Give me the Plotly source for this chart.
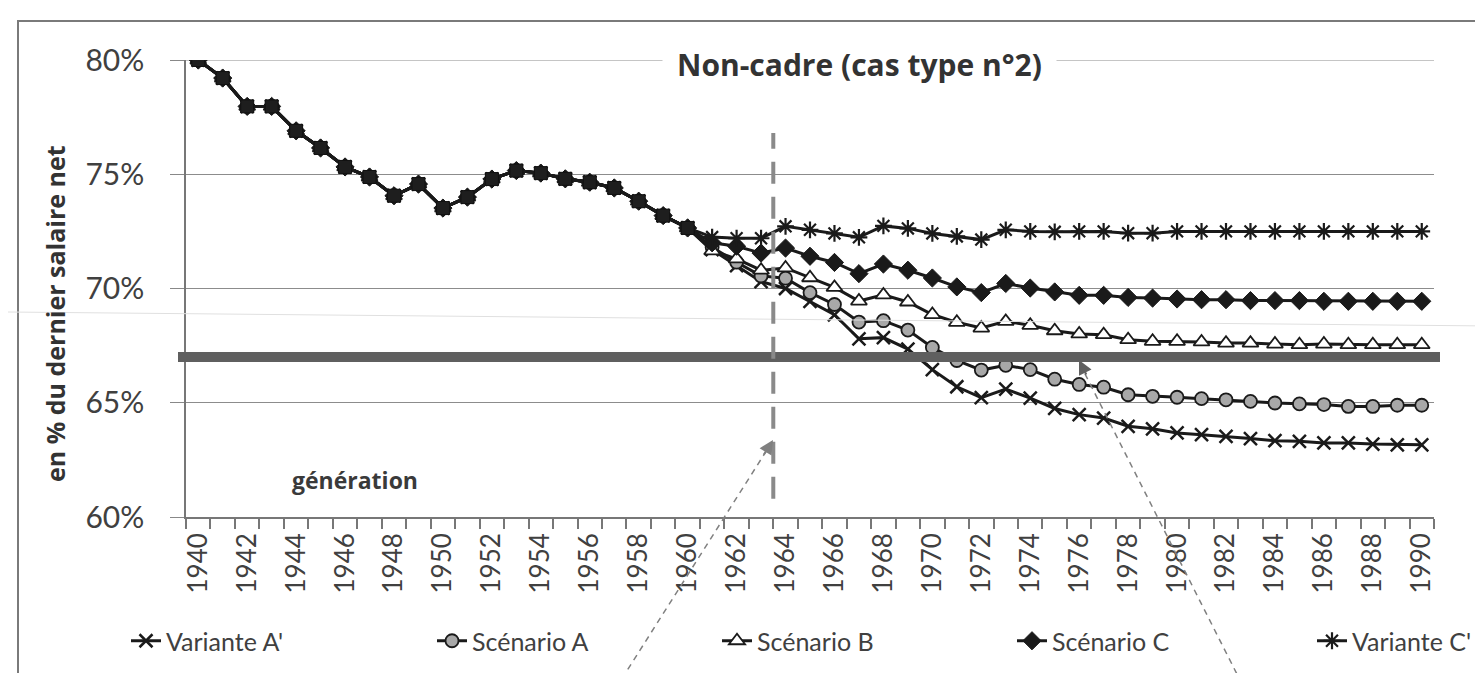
import plotly.graph_objects as go

# ---------------- data ----------------
years = list(range(1940, 1991))
tick_years = list(range(1940, 1991, 2))
history_years = list(range(1940, 1961))

# common historical part (all scenarios identical), 1940-1960
history = [80.0, 79.21, 77.97, 77.97, 76.9, 76.15, 75.32, 74.88, 74.06, 74.57,
           73.52, 74.0, 74.79, 75.16, 75.05, 74.8, 74.65, 74.4, 73.82, 73.19, 72.65]

# projections 1961-1990
variante_a_prime = [71.7, 71.0, 70.3, 70.0, 69.44, 68.85, 67.8, 67.85, 67.35, 66.45,
                    65.7, 65.22, 65.6, 65.2, 64.75, 64.48, 64.33, 63.97, 63.86, 63.68,
                    63.6, 63.53, 63.43, 63.34, 63.31, 63.24, 63.24, 63.19, 63.16, 63.16]
scenario_a = [71.8, 71.15, 70.55, 70.45, 69.82, 69.3, 68.53, 68.59, 68.18, 67.42,
              66.85, 66.43, 66.64, 66.45, 66.03, 65.8, 65.68, 65.35, 65.28, 65.24,
              65.18, 65.13, 65.06, 64.99, 64.95, 64.92, 64.84, 64.84, 64.89, 64.89]
scenario_b = [71.65, 71.3, 70.8, 70.9, 70.47, 70.05, 69.45, 69.72, 69.41, 68.86,
              68.52, 68.27, 68.56, 68.39, 68.15, 68.01, 67.98, 67.76, 67.69, 67.69,
              67.66, 67.61, 67.61, 67.57, 67.54, 67.57, 67.54, 67.54, 67.54, 67.54]
scenario_c = [72.0, 71.85, 71.55, 71.77, 71.41, 71.14, 70.65, 71.07, 70.8, 70.46,
              70.07, 69.82, 70.22, 70.02, 69.85, 69.7, 69.7, 69.61, 69.58, 69.54,
              69.51, 69.51, 69.47, 69.47, 69.47, 69.44, 69.44, 69.44, 69.44, 69.44]
variante_c_prime = [72.25, 72.2, 72.2, 72.72, 72.57, 72.41, 72.24, 72.74, 72.63, 72.41,
                    72.28, 72.14, 72.57, 72.5, 72.48, 72.5, 72.5, 72.42, 72.42, 72.5,
                    72.5, 72.5, 72.5, 72.5, 72.5, 72.5, 72.5, 72.5, 72.5, 72.5]

series_names = ["Variante A'", "Scénario A", "Scénario B", "Scénario C", "Variante C'"]
series_proj = [variante_a_prime, scenario_a, scenario_b, scenario_c, variante_c_prime]

reference_level = 67.0      # thick grey horizontal line
marker_year = 1963.5        # dashed vertical line

y_ticks = [60, 65, 70, 75, 80]

# ---------------- styles ----------------
LINE = "#1a1a1a"
styles = [
    dict(symbol="x-thin-open", size=13, color=LINE, line=dict(width=2.5, color=LINE)),
    dict(symbol="circle", size=13, color="#a8a8a8", line=dict(width=1.8, color=LINE)),
    dict(symbol="triangle-up", size=14, color="white", line=dict(width=1.8, color=LINE)),
    dict(symbol="diamond", size=14, color=LINE, line=dict(width=1, color=LINE)),
    dict(symbol="asterisk-open", size=14, color=LINE, line=dict(width=2.2, color=LINE)),
]

FONT = "Lato"
BOLD = "Open Sans"
TXT = "#404040"

W, H = 1483, 673
L, R, T, B = 178, 57, 52, 164
pw = W - L - R
ph = H - T - B


def px(xp):
    return (xp - L) / pw


def py(yp):
    return (H - B - yp) / ph


# legend entry positions (left edge, px)
legend_starts = [118, 424, 709, 1004, 1304]

fig = go.Figure()
for i, (name, proj, st) in enumerate(zip(series_names, series_proj, styles)):
    fig.add_trace(go.Scatter(
        x=years, y=history + proj, name=name, mode="lines+markers",
        line=dict(color=LINE, width=3), marker=st,
        legend="legend" if i == 0 else f"legend{i + 1}",
    ))

# shared history drawn with the square markers seen in the chart
fig.add_trace(go.Scatter(
    x=history_years, y=history, mode="lines+markers", showlegend=False,
    line=dict(color=LINE, width=3),
    marker=dict(symbol="square", size=13, color="#1e1e1e", line=dict(width=1, color="#111111")),
))

shapes = []
# outer frame
shapes.append(dict(type="rect", xref="paper", yref="paper",
                   x0=px(10), x1=px(1500), y0=py(13), y1=py(700),
                   line=dict(color="#7a7a7a", width=2), layer="below"))
# top grid line at 80 %
shapes.append(dict(type="line", xref="paper", yref="y", x0=0, x1=1, y0=80, y1=80,
                   line=dict(color="#8c8c8c", width=1), layer="below"))
# faint scan line
shapes.append(dict(type="line", xref="paper", yref="paper",
                   x0=px(0), x1=px(1483), y0=py(304), y1=py(318),
                   line=dict(color="#e0e0e0", width=1), layer="above"))
# thick reference level
shapes.append(dict(type="line", xref="paper", yref="y",
                   x0=px(170), x1=px(1432), y0=reference_level, y1=reference_level,
                   line=dict(color="#5f5f5f", width=10), layer="above"))
# dashed vertical line
shapes.append(dict(type="line", xref="x", yref="y",
                   x0=marker_year, x1=marker_year, y0=60.8, y1=76.8,
                   line=dict(color="#8a8a8a", width=4, dash="22px,13px"), layer="above"))
# dashed arrows
shapes.append(dict(type="line", xref="paper", yref="paper",
                   x0=px(608), y0=py(680), x1=px(764), y1=py(434),
                   line=dict(color="#808080", width=1.5, dash="6px,5px"), layer="above"))
shapes.append(dict(type="line", xref="paper", yref="paper",
                   x0=px(1072), y0=py(356), x1=px(1236), y1=py(680),
                   line=dict(color="#808080", width=1.5, dash="6px,5px"), layer="above"))

annotations = [
    dict(text="<b>Non-cadre (cas type n°2)</b>", xref="paper", yref="paper",
         x=px(851), y=py(57), xanchor="center", yanchor="middle", showarrow=False,
         font=dict(family=BOLD, size=30, color="#333333"), bgcolor="white", borderpad=14),
    dict(text="<b>en % du dernier salaire net</b>", xref="paper", yref="paper",
         x=px(47), y=py(306), xanchor="center", yanchor="middle", showarrow=False,
         textangle=-90, font=dict(family=BOLD, size=25, color="#333333")),
    dict(text="<b>génération</b>", xref="paper", yref="paper",
         x=px(347), y=py(472), xanchor="center", yanchor="middle", showarrow=False,
         font=dict(family=BOLD, size=23, color="#3a3a3a")),
    # arrow heads
    dict(text="", xref="paper", yref="paper", x=px(765), y=py(432),
         ax=-10, ay=16, showarrow=True, arrowhead=2, arrowsize=1.4, arrowwidth=2,
         arrowcolor="#808080"),
    dict(text="", xref="paper", yref="paper", x=px(1071), y=py(352),
         ax=8, ay=16, showarrow=True, arrowhead=2, arrowsize=1.4, arrowwidth=2,
         arrowcolor="#606060"),
]

legend_common = dict(orientation="h", xanchor="left", y=py(633), yanchor="middle",
                     font=dict(family=FONT, size=25, color=TXT),
                     bgcolor="rgba(0,0,0,0)")
layout_legends = {}
for i, xs in enumerate(legend_starts):
    key = "legend" if i == 0 else f"legend{i + 1}"
    layout_legends[key] = dict(legend_common, x=px(xs))

fig.update_layout(
    width=W, height=H,
    margin=dict(l=L, r=R, t=T, b=B, pad=0),
    paper_bgcolor="white", plot_bgcolor="white",
    font=dict(family=FONT, color=TXT),
    shapes=shapes, annotations=annotations,
    showlegend=True,
    **layout_legends,
)

fig.update_xaxes(
    range=[1939.5, 1990.5], tickmode="array", tickvals=tick_years,
    ticktext=[str(y) for y in tick_years], tickangle=-90,
    tickfont=dict(family=FONT, size=26, color=TXT),
    ticks="", showgrid=False, zeroline=False,
    showline=True, linecolor="#777777", linewidth=1.5,
    ticklabelstandoff=4,
    minor=dict(tickvals=[y - 0.5 for y in years] + [1990.5], ticks="outside",
               ticklen=10, tickcolor="#777777", tickwidth=1.5, showgrid=False),
)
fig.update_yaxes(
    range=[60, 80], tickmode="array", tickvals=y_ticks,
    ticktext=[f"{v}%" for v in y_ticks],
    tickfont=dict(family=FONT, size=30, color=TXT),
    ticks="outside", ticklen=14, tickcolor="#888888", tickwidth=1,
    showgrid=True, gridcolor="#8c8c8c", gridwidth=1, zeroline=False,
    showline=True, linecolor="#777777", linewidth=1.5,
    ticklabelstandoff=20,
)

fig.write_html("out.html")
